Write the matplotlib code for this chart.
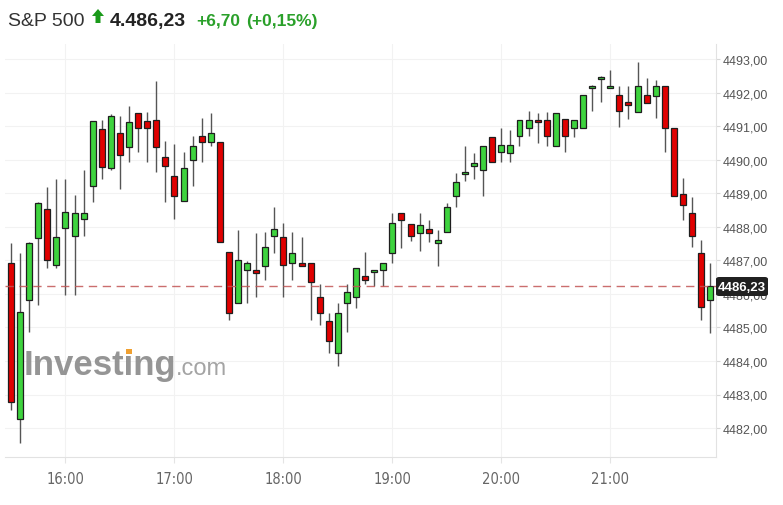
import numpy as np
import pandas as pd
import matplotlib
matplotlib.use("Agg")
import matplotlib.pyplot as plt
from matplotlib.patches import Rectangle, Polygon, FancyBboxPatch

# 5-minute candles, 15:30 .. 21:55
times = pd.date_range("2023-01-01 15:30", periods=78, freq="5min")

opens = [4486.92, 4482.27, 4485.83, 4487.66, 4488.52, 4486.87, 4487.95, 4487.73, 4488.22, 4489.22,
         4490.90, 4489.74, 4490.79, 4490.37, 4491.39, 4491.16, 4491.19, 4490.07, 4489.52, 4488.78,
         4490.00, 4490.71, 4490.52, 4490.54, 4487.26, 4485.72, 4486.72, 4486.70, 4486.84, 4487.73,
         4487.70, 4486.91, 4486.91, 4486.92, 4485.92, 4485.20, 4484.23, 4485.72, 4485.90, 4486.54,
         4486.64, 4486.72, 4487.21, 4488.40, 4488.08, 4487.80, 4487.93, 4487.51, 4487.83, 4488.93,
         4489.56, 4489.81, 4489.70, 4490.68, 4490.22, 4490.19, 4490.71, 4490.93, 4491.19, 4491.19,
         4490.42, 4491.21, 4490.94, 4490.94, 4492.14, 4492.40, 4492.14, 4491.94, 4491.71, 4491.41,
         4491.94, 4491.91, 4492.21, 4490.94, 4488.98, 4488.41, 4487.22, 4485.83]
highs = [4487.52, 4487.21, 4487.55, 4488.75, 4489.18, 4489.42, 4489.42, 4488.95, 4489.69, 4491.16,
         4491.19, 4491.35, 4491.31, 4491.59, 4491.39, 4491.41, 4492.33, 4490.57, 4490.47, 4490.22,
         4490.71, 4491.23, 4491.39, 4490.54, 4487.26, 4487.91, 4486.99, 4487.81, 4487.83, 4488.60,
         4488.10, 4487.83, 4487.69, 4486.92, 4486.29, 4485.42, 4485.72, 4486.29, 4486.77, 4487.24,
         4486.72, 4486.92, 4488.40, 4488.40, 4488.08, 4488.40, 4488.20, 4487.90, 4488.70, 4489.59,
         4490.40, 4490.19, 4490.42, 4490.68, 4490.93, 4490.89, 4491.19, 4491.44, 4491.38, 4491.41,
         4491.39, 4491.21, 4491.19, 4491.94, 4492.23, 4492.48, 4492.68, 4492.19, 4492.19, 4492.90,
         4492.42, 4492.37, 4492.21, 4490.94, 4489.44, 4488.88, 4487.61, 4486.91]
lows = [4482.55, 4481.55, 4484.87, 4485.68, 4486.76, 4486.76, 4485.98, 4485.98, 4487.73, 4488.75,
        4489.42, 4489.70, 4489.13, 4489.94, 4490.24, 4489.94, 4489.64, 4488.75, 4488.23, 4488.78,
        4489.22, 4489.94, 4490.42, 4487.54, 4485.23, 4485.72, 4485.72, 4485.90, 4486.42, 4487.21,
        4485.92, 4486.42, 4486.83, 4485.23, 4485.08, 4484.23, 4483.86, 4484.87, 4485.58, 4486.29,
        4486.22, 4486.22, 4486.92, 4487.37, 4487.58, 4487.29, 4487.54, 4486.84, 4487.83, 4488.60,
        4489.37, 4489.42, 4488.93, 4489.92, 4489.92, 4489.92, 4490.42, 4490.71, 4490.49, 4490.42,
        4490.42, 4490.24, 4490.68, 4490.94, 4491.44, 4491.73, 4492.14, 4490.98, 4491.21, 4491.41,
        4491.68, 4491.23, 4490.24, 4488.93, 4488.21, 4487.41, 4485.23, 4484.82]
closes = [4482.77, 4485.47, 4487.52, 4488.71, 4487.02, 4487.70, 4488.45, 4488.41, 4488.41, 4491.16,
          4489.77, 4491.31, 4490.14, 4491.13, 4490.93, 4490.93, 4490.37, 4489.82, 4488.93, 4489.74,
          4490.42, 4490.53, 4490.79, 4487.54, 4485.42, 4487.02, 4486.92, 4486.61, 4487.41, 4487.93,
          4486.87, 4487.22, 4486.83, 4486.34, 4485.42, 4484.60, 4485.42, 4486.06, 4486.77, 4486.42,
          4486.72, 4486.92, 4488.11, 4488.21, 4487.73, 4488.05, 4487.80, 4487.61, 4488.60, 4489.34,
          4489.64, 4489.90, 4490.42, 4489.92, 4490.44, 4490.44, 4491.19, 4491.19, 4491.11, 4490.71,
          4491.39, 4490.71, 4491.19, 4491.94, 4492.21, 4492.47, 4492.21, 4491.46, 4491.64, 4492.21,
          4491.68, 4492.21, 4490.94, 4488.93, 4488.66, 4487.73, 4485.60, 4486.23]

last_price = 4486.23
y_ticks = [4482, 4483, 4484, 4485, 4486, 4487, 4488, 4489, 4490, 4491, 4492, 4493]

UP = "#3ed33e"
DOWN = "#e00000"
EDGE = "#1e1e1e"
WICK = "#555555"
SANS = ["Liberation Sans", "DejaVu Sans"]

W, H = 783, 506
fig = plt.figure(figsize=(W / 100, H / 100), dpi=100)
fig.patch.set_facecolor("white")


def px(x, y):
    # pixel (from top-left) -> figure fraction
    return x / W, 1 - y / H


ax = fig.add_axes([5 / W, (H - 458) / H, (716 - 5) / W, (458 - 45) / H])
ax.set_facecolor("white")

x = np.arange(len(times))
bw = 0.66
for i in x:
    o, h, l, c = opens[i], highs[i], lows[i], closes[i]
    col = UP if c >= o else DOWN
    ax.vlines(i, l, h, color=WICK, lw=1.0, zorder=2)
    bot = min(o, c)
    ht = max(abs(c - o), 0.04)
    ax.add_patch(Rectangle((i - bw / 2, bot), bw, ht, facecolor=col,
                           edgecolor=EDGE, lw=0.9, zorder=3))

ax.axhline(last_price, color="#c25555", lw=1.0, ls=(0, (6, 4)), alpha=0.85, zorder=4)

ax.set_xlim(-0.66, 77.64)
ax.set_ylim(4493 - (458 - 60) / 33.55, 4493 + (60 - 45) / 33.55)

hour_idx = [i for i, t in enumerate(times) if t.minute == 0]
ax.set_xticks(hour_idx)
ax.set_xticklabels([times[i].strftime("%H:%M") for i in hour_idx],
                   family="DejaVu Sans", fontstretch="condensed", fontsize=10.5, color="#666666")
ax.yaxis.tick_right()
ax.set_yticks(y_ticks)
ax.set_yticklabels([f"{v},00" for v in y_ticks], family=SANS, fontsize=9, color="#555555")
ax.tick_params(axis="y", length=3, color="#d8d8d8", pad=2)
ax.tick_params(axis="x", length=4, color="#e4e4e4", pad=6)
ax.grid(True, color="#f2f2f2", lw=0.8, zorder=0)
for s in ["top", "left"]:
    ax.spines[s].set_visible(False)
for s in ["right", "bottom"]:
    ax.spines[s].set_color("#e2e2e2")

# watermark
fig.text(*px(24, 375), "Investing", fontsize=25, fontweight="bold", color="#8a8a8a",
         family=SANS, va="baseline", zorder=1, alpha=0.9)
fig.text(*px(176, 375), ".com", fontsize=17, color="#9a9a9a",
         family=SANS, va="baseline", zorder=1, alpha=0.9)
# orange dot on the second "i": measure where "Invest" ends
probe = fig.text(*px(24, 375), "Invest", fontsize=25, fontweight="bold", family=SANS,
                 va="baseline", alpha=0)
fig.canvas.draw()
ext = probe.get_window_extent()
i_w = 0.278 * 25 * 100 / 72
dot_x = ext.x1 + i_w / 2 - 0.5
fig.patches.append(Rectangle(((dot_x - 3) / W, (H - 375 + 20) / H), 6 / W, 5.5 / H,
                             transform=fig.transFigure, facecolor="#f0a030", edgecolor="none",
                             zorder=2))

# last price label
fig.patches.append(FancyBboxPatch(px(716, 297), 52 / W, 19 / H, boxstyle="round,pad=0,rounding_size=0.004",
                                  transform=fig.transFigure, facecolor="#202020", edgecolor="none",
                                  zorder=5))
fig.text(*px(742, 288), "4486,23", fontsize=9.5, fontweight="bold", color="white",
         family=SANS, ha="center", va="center", zorder=6)

# header
fig.text(*px(8, 26), "S&P 500", fontsize=14, color="#333333", family=SANS, va="baseline")
fig.patches.append(Polygon([px(92, 17), px(98, 10), px(104, 17), px(100.5, 17), px(100.5, 24),
                            px(95.5, 24), px(95.5, 17)], closed=True, transform=fig.transFigure,
                           facecolor="#1a9a1a", edgecolor="none"))
fig.text(*px(110, 26), "4.486,23", fontsize=14, fontweight="bold", color="#222222", family=SANS,
         va="baseline")
fig.text(*px(196, 26), "+6,70", fontsize=12.5, fontweight="bold", color="#2aa02a", family=SANS,
         va="baseline")
fig.text(*px(246, 26), "(+0,15%)", fontsize=12.5, fontweight="bold", color="#2aa02a", family=SANS,
         va="baseline")

fig.savefig("out.png", dpi=100)
